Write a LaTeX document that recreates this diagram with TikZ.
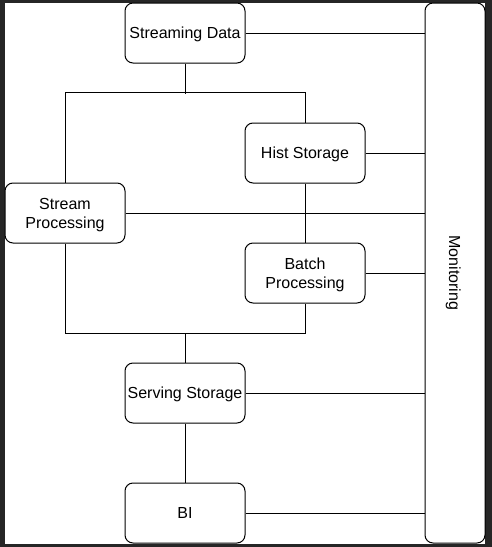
\documentclass[tikz,border=0pt]{standalone}
\usepackage{fontspec}
\setmainfont{Liberation Sans}
\definecolor{backdrop}{HTML}{262626}
\begin{document}
\begin{tikzpicture}[x=1pt, y=-1pt, block/.style={rectangle, draw, rounded
      corners=8pt, line width=1pt, minimum width=120pt, minimum height=60pt,
      align=center, inner sep=2pt, text depth=0pt,
      font=\fontsize{16}{19}\selectfont}]
    \fill[backdrop] (0,0) rectangle (492,547);
    \fill[white] (5,3) rectangle (485,544);
    \useasboundingbox (0,0) rectangle (492,547);
    \begin{scope}[every node/.style={block}]
      \node (data) at (185,33) {Streaming Data};
      \node (hist) at (305,153) {Hist Storage};
      \node (stream) at (65,213) {Stream\\Processing};
      \node (batch) at (305,273) {Batch\\Processing};
      \node (serve) at (185,393) {Serving Storage};
      \node (bi) at (185,513) {BI};
      \node [minimum width=540pt, rotate=-90] (mon) at (455,273) {Monitoring};
    \end{scope}
    \begin{scope}[line width=1pt]
      \draw (data.south) -- ++(0,30);
      \draw (stream.north) -- ++(0,-90) -| (hist.north);
      \draw (hist) -- (batch);
      \draw (stream.south) -- ++(0,90) -| (batch.south);
      \draw (serve.north) -- ++(0,-30);
      \draw (serve) -- (bi);
      \foreach \n in {data,hist,stream,batch,serve,bi}
        \draw (\n.east) -- (\n.east -| mon.south);
    \end{scope}
  \end{tikzpicture}
\end{document}
